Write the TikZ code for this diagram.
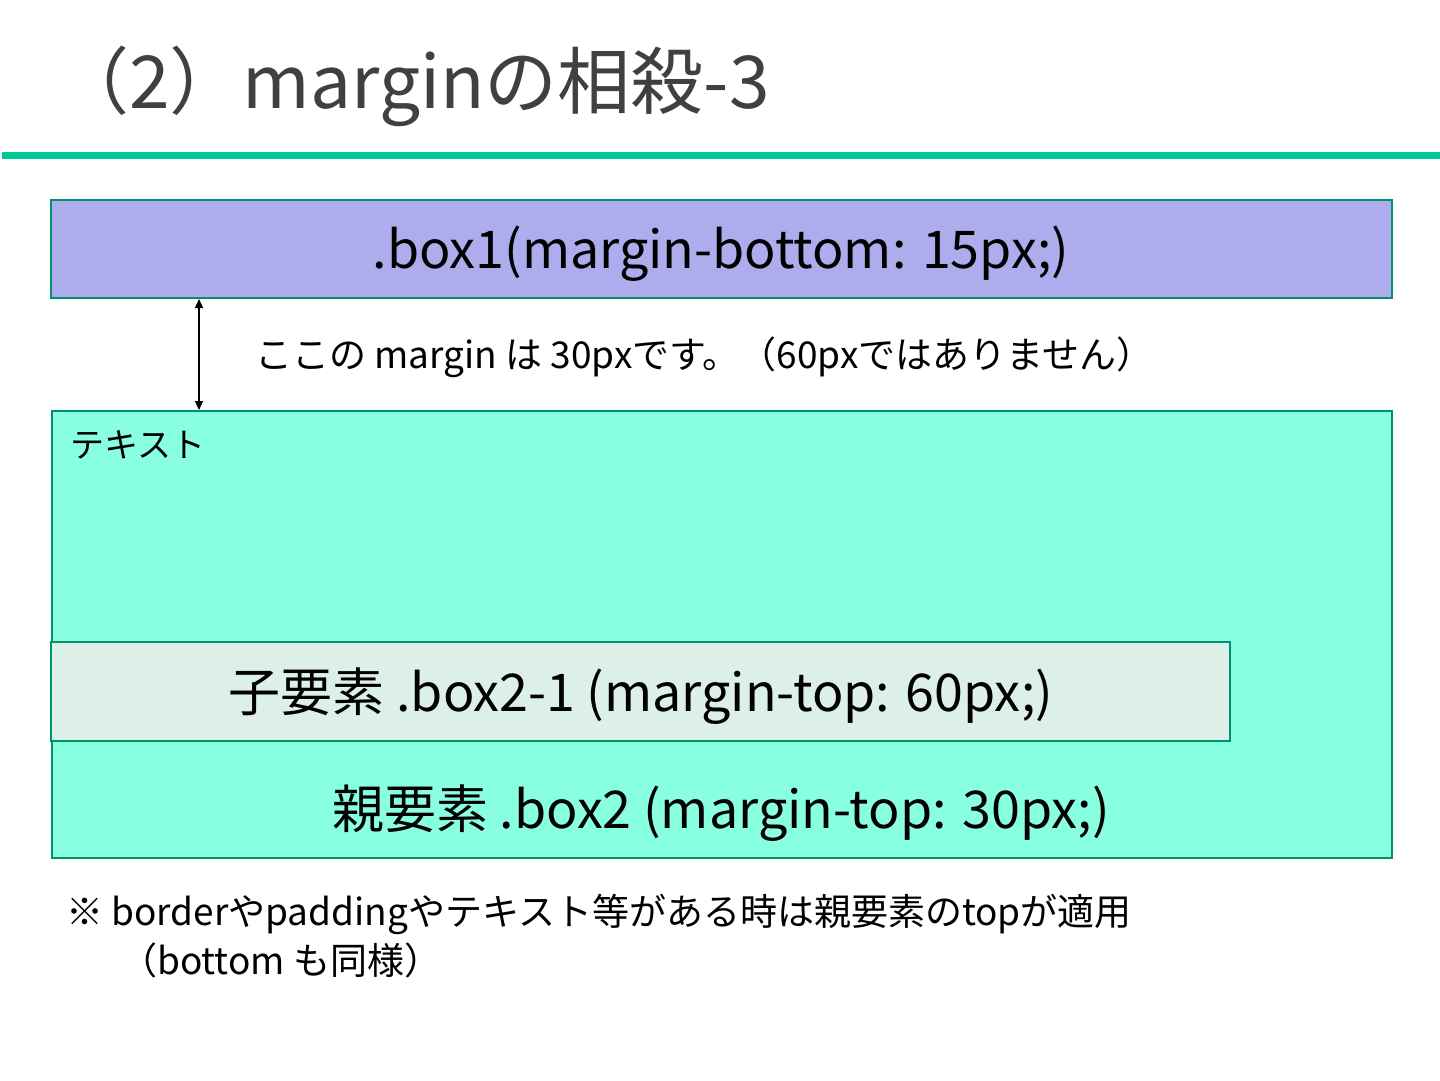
\documentclass[tikz,border=0pt]{standalone}
\usepackage{fontspec}
\setmainfont{Noto Sans CJK JP}
\usetikzlibrary{arrows.meta}
\definecolor{linegreen}{HTML}{00C896}
\definecolor{boxedge}{HTML}{00906E}
\definecolor{boxone}{HTML}{ADADED}
\definecolor{boxtwo}{HTML}{88FFE0}
\definecolor{boxchild}{HTML}{DDF0E8}
\definecolor{titlegray}{HTML}{404040}
\newcommand{\fs}[1]{\fontsize{#1}{#1}\selectfont}
\tikzset{
  panel/.style={draw=boxedge, line width=2pt},
  lbl/.style={inner sep=0pt, anchor=base},
}
\begin{document}
\begin{tikzpicture}[x=1pt,y=1pt]
\useasboundingbox (0,0) rectangle (1440,-1080);
\fill[white] (0,0) rectangle (1440,-1080);
% title
\node[lbl, anchor=base west, text=titlegray] (title) at (56,-108) {\fs{73}（2）marginの相殺-3};
\fill[linegreen] (2,-152) rectangle (1440,-159);
% boxes
\draw[panel, fill=boxone] (51,-200) rectangle (1392,-298);
\node[lbl] (box1) at (721,-268) {\fs{52}.box1(margin-bottom: 15px;)};
\draw[panel, fill=boxtwo] (52,-411) rectangle (1392,-858);
\draw[panel, fill=boxchild] (51,-642) rectangle (1230,-741);
\coordinate (a1) at (199,-299);
\coordinate (a2) at (199,-410);
\draw[{Triangle[length=9pt,width=8pt]}-{Triangle[length=9pt,width=8pt]}, line width=1.2pt] (a1) -- (a2);
\node[lbl, anchor=base west] (note) at (255,-368) {\fs{37}ここの margin は 30pxです。（60pxではありません）};
\node[lbl, anchor=base west] (txt) at (70,-457) {\fs{34}テキスト};
\node[lbl] (child) at (641,-711) {\fs{52}子要素 .box2-1 (margin-top: 60px;)};
\node[lbl] (parent) at (721,-828) {\fs{52}親要素 .box2 (margin-top: 30px;)};
\node[lbl, anchor=base west] (foot1) at (66,-925) {\fs{37}※ borderやpaddingやテキスト等がある時は親要素のtopが適用};
\node[lbl, anchor=base west] (foot2) at (120,-974) {\fs{37}（bottom も同様）};
\end{tikzpicture}
\end{document}
